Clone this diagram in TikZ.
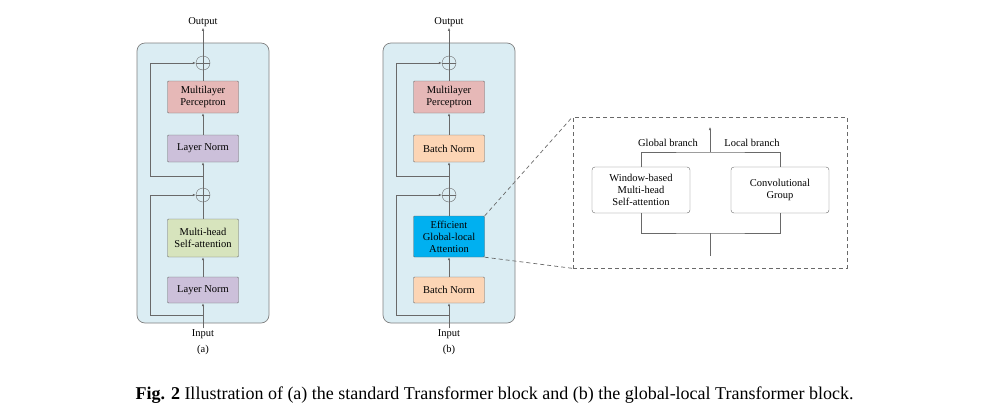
\documentclass[tikz,border=0pt]{standalone}
\usepackage{fontspec}
\setmainfont{Liberation Serif}
\usetikzlibrary{arrows.meta}
\definecolor{blockbg}{RGB}{219,237,243}
\definecolor{mlpred}{RGB}{230,184,183}
\definecolor{normpurple}{RGB}{204,192,218}
\definecolor{attngreen}{RGB}{215,228,189}
\definecolor{bnorange}{RGB}{252,213,181}
\definecolor{eglablue}{RGB}{0,176,240}
\definecolor{linegray}{RGB}{105,105,105}

\begin{document}
\begin{tikzpicture}[x=1pt, y=-1pt,
    block/.style={draw=linegray, rounded corners=1pt, minimum width=71pt, align=center, inner sep=1pt, font=\fontsize{10.5}{12}\selectfont},
    branch/.style={draw=linegray, rounded corners=3pt, minimum width=98pt, minimum height=46pt, align=center, inner sep=1pt, font=\fontsize{10.5}{12}\selectfont},
    addop/.style={circle, draw=linegray, minimum size=14pt, inner sep=0pt,
        path picture={\draw[linegray] (path picture bounding box.west) -- (path picture bounding box.east)
                                     (path picture bounding box.north) -- (path picture bounding box.south);}},
    conn/.style={draw=linegray, line width=0.6pt, -{Latex[length=3pt, width=2.6pt]}},
    plain/.style={draw=linegray, line width=0.6pt},
    lbl/.style={font=\fontsize{10.5}{12}\selectfont, inner sep=1pt},
    container/.style={draw=gray, fill=blockbg, rounded corners=8pt, line width=0.7pt}]
    \useasboundingbox (0,0) rectangle (985,416);

    % (a) standard Transformer block
    \draw[container] (137,43) rectangle (269,323);
    \node[addop] (addA1) at (203,63) {};
    \node[block, fill=mlpred, minimum height=32pt] (mlpA) at (203,97) {Multilayer\\Perceptron};
    \node[block, fill=normpurple, minimum height=27pt] (lnA1) at (203,148.5) {Layer Norm};
    \node[addop] (addA2) at (203,195) {};
    \node[block, fill=attngreen, minimum height=38pt] (msaA) at (203,238) {Multi-head\\Self-attention};
    \node[block, fill=normpurple, minimum height=26pt] (lnA2) at (203,290) {Layer Norm};
    \node[lbl] (outA) at (203,22) {Output};
    \node[lbl] (inA) at (203,334) {Input};
    \node[lbl] (capA) at (203,350) {(a)};
    \coordinate (jA1) at (203,176);
    \coordinate (cA1) at (150,176);
    \coordinate (jA2) at (203,315);
    \coordinate (cA2) at (150,315);
    \draw[conn] (inA) -- (lnA2);
    \draw[conn] (lnA2) -- (msaA);
    \draw[plain] (msaA) -- (addA2);
    \draw[conn] (addA2) -- (lnA1);
    \draw[conn] (lnA1) -- (mlpA);
    \draw[plain] (mlpA) -- (addA1);
    \draw[conn] (addA1) -- (outA);
    \draw[conn] (jA2) -- (cA2) |- (addA2);
    \draw[conn] (jA1) -- (cA1) |- (addA1);

    % (b) global-local Transformer block
    \draw[container] (383,43) rectangle (515,323);
    \node[addop] (addB1) at (449,63) {};
    \node[block, fill=mlpred, minimum height=32pt] (mlpB) at (449,97) {Multilayer\\Perceptron};
    \node[block, fill=bnorange, minimum height=27pt] (bnB1) at (449,148.5) {Batch Norm};
    \node[addop] (addB2) at (449,195) {};
    \node[block, fill=eglablue, minimum height=41pt] (egla) at (449,236.5) {Efficient\\Global-local\\Attention};
    \node[block, fill=bnorange, minimum height=26pt] (bnB2) at (449,290) {Batch Norm};
    \node[lbl] (outB) at (449,22) {Output};
    \node[lbl] (inB) at (449,334) {Input};
    \node[lbl] (capB) at (449,350) {(b)};
    \coordinate (jB1) at (449,176);
    \coordinate (cB1) at (396,176);
    \coordinate (jB2) at (449,315);
    \coordinate (cB2) at (396,315);
    \draw[conn] (inB) -- (bnB2);
    \draw[conn] (bnB2) -- (egla);
    \draw[plain] (egla) -- (addB2);
    \draw[conn] (addB2) -- (bnB1);
    \draw[conn] (bnB1) -- (mlpB);
    \draw[plain] (mlpB) -- (addB1);
    \draw[conn] (addB1) -- (outB);
    \draw[conn] (jB2) -- (cB2) |- (addB2);
    \draw[conn] (jB1) -- (cB1) |- (addB1);

    % zoomed view of the attention
    \node[draw=linegray, dash pattern=on 4pt off 3pt, line width=0.7pt, minimum width=274pt, minimum height=151pt, inner sep=0pt] (detail) at (710,192.5) {};
    \draw[linegray, dash pattern=on 4pt off 3pt, line width=0.7pt] (egla.north east) -- (detail.north west);
    \draw[linegray, dash pattern=on 4pt off 3pt, line width=0.7pt] (egla.south east) -- (detail.south west);
    \node[branch] (wmsa) at (641,190) {Window-based\\Multi-head\\Self-attention};
    \node[branch] (conv) at (780,190) {Convolutional\\Group};
    \coordinate (merge) at (710,152);
    \coordinate (egout) at (710,127);
    \coordinate (split) at (710,233);
    \coordinate (egin) at (710,256);
    \draw[plain] (wmsa.north) |- (merge) -| (conv.north);
    \draw[conn] (merge) -- (egout);
    \draw[plain] (wmsa.south) |- (split) -| (conv.south);
    \draw[plain] (egin) -- (split);
    \node[lbl] (glb) at (668,143) {Global branch};
    \node[lbl] (lcb) at (752,143) {Local branch};

    % caption
    \node[font=\fontsize{18}{21}\selectfont, inner sep=0pt] (caption) at (494.5,395)
        {\textbf{Fig. 2} Illustration of (a) the standard Transformer block and (b) the global-local Transformer block.};
\end{tikzpicture}
\end{document}
